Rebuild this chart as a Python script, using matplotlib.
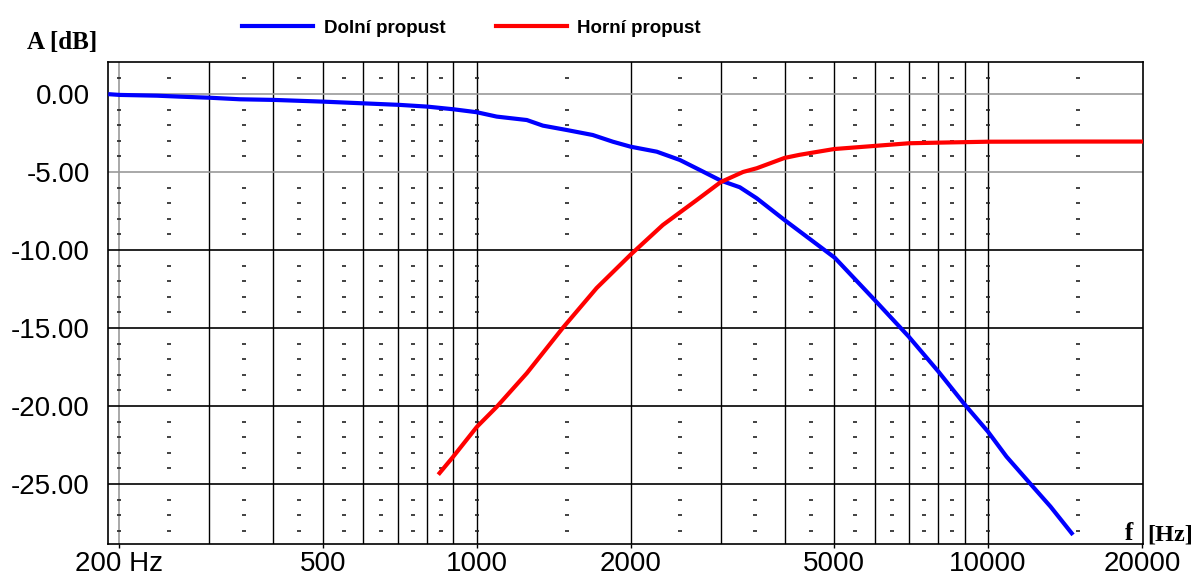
import numpy as np
import matplotlib
matplotlib.use("Agg")
import matplotlib.pyplot as plt

# dolni propust (low pass)
f_dolni = [192, 200, 237, 262, 300, 344, 400, 500, 600, 707, 800, 900, 1000,
           1094, 1253, 1347, 1500, 1686, 1846, 2000, 2250, 2496, 2730, 3000,
           3270, 3530, 4000, 5016, 6000, 7000, 8000, 9000, 10000, 10870,
           12080, 13250, 14580]
a_dolni = [-0.02, -0.06, -0.11, -0.17, -0.24, -0.34, -0.38, -0.49, -0.60, -0.70,
           -0.81, -0.98, -1.17, -1.45, -1.67, -2.03, -2.31, -2.63, -3.06, -3.38,
           -3.70, -4.23, -4.87, -5.55, -5.98, -6.69, -8.08, -10.5, -13.2, -15.56,
           -17.8, -19.9, -21.65, -23.25, -24.96, -26.45, -28.16]

# horni propust (high pass)
f_horni = [846, 897, 1000, 1094, 1253, 1473, 1716, 2000, 2312, 2693, 3000,
           3318, 3530, 4000, 4280, 5000, 6000, 7000, 8000, 10000, 15000, 20000]
a_horni = [-24.3, -23.3, -21.35, -20.06, -17.9, -15.0, -12.44, -10.3, -8.4,
           -6.8, -5.65, -5.0, -4.76, -4.1, -3.9, -3.53, -3.33, -3.16, -3.12,
           -3.06, -3.05, -3.05]

grid_f = [300, 400, 500, 600, 700, 800, 900, 1000, 2000, 3000, 4000, 5000,
          6000, 7000, 8000, 9000, 10000]
dash_f = [200, 250, 350, 450, 550, 650, 750, 850, 1000, 1500, 2500, 3500,
          4500, 5500, 6500, 7500, 8500, 10000, 15000]
dash_db = [d for d in range(1, -29, -1) if d % 5 != 0]

xticks = [200, 500, 1000, 2000, 5000, 10000, 20000]
xlabels = ["200 Hz", "500", "1000", "2000", "5000", "10000", "20000"]
yticks = [0, -5, -10, -15, -20, -25]

plt.rcParams['font.family'] = ['Liberation Sans', 'DejaVu Sans']

fig = plt.figure(figsize=(11.95, 5.78), dpi=100)
ax = fig.add_axes([108/1195, 1-544/578, (1143-108)/1195, (544-62)/578])

ax.set_xscale('log')
ax.set_xlim(190, 20100)
ax.set_ylim(-28.85, 2.05)

# mrizka
ax.axvline(200, color='#999999', lw=1.2, zorder=1)
for g in grid_f:
    ax.axvline(g, color='black', lw=1, zorder=1)
for y in yticks:
    c = '#999999' if y > -10 else 'black'
    ax.axhline(y, color=c, lw=1.2, zorder=1)

# male carky
for fx in dash_f:
    ax.plot([fx]*len(dash_db), dash_db, ls='none', marker='_', ms=3.5,
            mew=1.2, color='#222222', zorder=2)

ax.plot(f_dolni, a_dolni, color='#0000ff', lw=3, label='Dolní propust', zorder=3)
ax.plot(f_horni, a_horni, color='#ff0000', lw=3, label='Horní propust', zorder=3)

ax.set_xticks(xticks)
ax.set_xticklabels(xlabels)
ax.xaxis.set_minor_locator(matplotlib.ticker.NullLocator())
ax.set_yticks(yticks)
ax.set_yticklabels(["%.2f" % y for y in yticks])
ax.tick_params(axis='x', length=3, width=1, pad=2, labelsize=20, direction='out')
ax.tick_params(axis='y', length=0, pad=13, labelsize=20)
for s in ax.spines.values():
    s.set_linewidth(1.2)

fig.legend(loc='center left', bbox_to_anchor=(242/1195, 1-28/578), ncol=2,
           frameon=False, borderpad=0, borderaxespad=0, handlelength=3.8,
           handletextpad=0.55, columnspacing=2.7,
           prop={'family': 'Liberation Sans', 'weight': 'bold', 'size': 13.5})

fig.text(27/1195, 1-49/578, "A [dB]", family='Liberation Serif', weight='bold',
         size=18, va='baseline')
fig.text(1125/1195, 1-540/578, "f", family='Liberation Serif', weight='bold',
         size=18, va='baseline')
fig.text(1147/1195, 1-540/578, "[Hz]", family='Liberation Serif', weight='bold',
         size=17.5, va='baseline')

fig.savefig("out.png", dpi=100)
